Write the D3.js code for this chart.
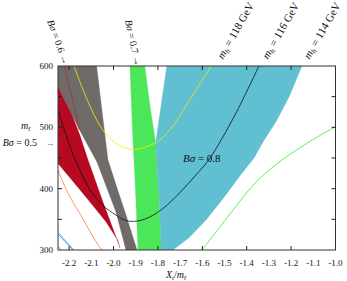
<!DOCTYPE html>
<html><head><meta charset="utf-8">
<script src="https://cdn.jsdelivr.net/npm/d3@7"></script>
<style>
body{margin:0;background:#fff}
svg{display:block}
text{font-family:"Liberation Serif","DejaVu Serif",serif;fill:#111}
</style></head>
<body><svg id="c" width="347" height="281"></svg>
<script>
// ---------- data (X_t/m_t, m_stop) ----------
const xDomain = [-2.25, -1.0];
const yDomain = [300, 600];
const xTickLabels = [-2.2,-2.1,-2.0,-1.9,-1.8,-1.7,-1.6,-1.5,-1.4,-1.3,-1.2,-1.1,-1.0];
const xTickMarks = [-2.2,-2.0,-1.8,-1.6,-1.4,-1.2];
const yTickLabels = [300,400,500,600];
const yTickMarks = [350,400,450,500,550];

const grayBand = [[-2.25,600],[-2.076,600],[-2.052,528],[-2.025,447],[-1.981,398],[-1.948,362],[-1.894,300],
  [-1.944,300],[-1.989,362],[-2.074,443],[-2.155,497],[-2.25,566]];
const redBand = [[-2.25,566],[-2.187,520],[-2.151,487],[-2.115,447],[-2.047,378],[-1.975,308],[-1.971,303],
  [-1.981,316],[-2.034,346],[-2.094,373],[-2.169,406],[-2.25,441]];
const greenBand = [[-1.926,600],[-1.915,498],[-1.900,389],[-1.890,300],[-1.785,300],[-1.795,389],[-1.810,475],[-1.836,536],[-1.859,600]];
const blueBand = [[-1.760,600],[-1.810,475],[-1.795,389],[-1.785,300],[-1.732,300],[-1.660,320],[-1.583,349],[-1.502,386],
  [-1.430,421],[-1.367,450],[-1.322,479],[-1.268,509],[-1.209,550],[-1.151,600]];

const darkRedLine = [[-2.221,600],[-2.196,561],[-2.173,528],[-2.155,497]];
const yellowCurve = [[-2.178,600],[-2.139,563],[-2.094,525],[-2.049,496],[-2.004,478],[-1.959,468],[-1.906,464],
  [-1.832,471],[-1.786,481],[-1.727,505],[-1.646,551],[-1.559,600]];
const blackCurve = [[-2.25,528],[-2.205,478],[-2.169,444],[-2.109,400],[-2.049,373],[-1.989,357],[-1.944,348],[-1.899,347],
  [-1.848,352],[-1.787,365],[-1.727,384],[-1.610,430],[-1.565,450],[-1.453,520],[-1.345,600]];
const orangeCurve = [[-2.25,430],[-2.204,392],[-2.143,354],[-2.083,316],[-2.053,300]];
const greenLine = [[-1.601,300],[-1.462,365],[-1.390,398],[-1.340,417],[-1.241,447],[-1.106,479],[-1.0,501]];
const cyanLine = [[-2.25,329],[-2.178,300]];
const blueLine = [[-2.25,326],[-2.182,300]];
const magentaLine = [[-2.25,306],[-2.236,300]];

// annotations: [text parts, anchor x, anchor y (data units), rotation]
const annotations = [
  {parts:[["B",1],["σ",1],[" = 0.6 →",0]], at:[-2.299,673], rot:70, size:10},
  {parts:[["B",1],["σ",1],[" = 0.7 →",0]], at:[-1.948,674], rot:78, size:10},
  {parts:[["m",1],["h",2],[" = 118 GeV",0]], at:[-1.507,610], rot:-60, size:11},
  {parts:[["m",1],["h",2],[" = 116 GeV",0]], at:[-1.304,610], rot:-60, size:11},
  {parts:[["m",1],["h",2],[" = 114 GeV",0]], at:[-1.117,610], rot:-60, size:11},
  {parts:[["B",1],["σ",1],[" = 0.8",0]], at:[-1.687,444], rot:0, size:11},
  {parts:[["B",1],["σ",1],[" = 0.5",0]], at:[-2.499,469], rot:0, size:10},
  {parts:[["→",0]], at:[-2.305,469], rot:0, size:9, fill:"#777"},
  {parts:[["m",1],["t̃",2]], at:[-2.417,497], rot:0, size:10}
];

// ---------- drawing ----------
const svg = d3.select("#c");
const x = d3.scaleLinear().domain(xDomain).range([58, 335.5]);
const y = d3.scaleLinear().domain(yDomain).range([250, 66]);

svg.append("defs").append("clipPath").attr("id","clip")
  .append("rect").attr("x",58).attr("y",66).attr("width",277.5).attr("height",184);

const plot = svg.append("g").attr("clip-path","url(#clip)");
const poly = d3.line().x(d=>x(d[0])).y(d=>y(d[1])).curve(d3.curveLinearClosed);
const smooth = d3.line().x(d=>x(d[0])).y(d=>y(d[1])).curve(d3.curveCatmullRom.alpha(0.5));
const straight = d3.line().x(d=>x(d[0])).y(d=>y(d[1]));

[[grayBand,"#6f6b69"],[redBand,"#b50a22"],[greenBand,"#4be65a"],[blueBand,"#60bfd1"]].forEach(([d,c])=>{
  plot.append("path").attr("d",poly(d)).attr("fill",c).attr("stroke",c).attr("stroke-width",0.3);
});

[[darkRedLine,"#9e3340",0.8],[yellowCurve,"#eeee10",0.8],[blackCurve,"#111",0.8],[orangeCurve,"#ff7a45",0.8],
 [greenLine,"#30ee30",0.8]].forEach(([d,c,w])=>{
  plot.append("path").attr("d",smooth(d)).attr("fill","none").attr("stroke",c).attr("stroke-width",w);
});
[[cyanLine,"#00dede"],[blueLine,"#3a3aff"],[magentaLine,"#e020e0"]].forEach(([d,c])=>{
  plot.append("path").attr("d",straight(d)).attr("fill","none").attr("stroke",c).attr("stroke-width",0.7);
});

// frame
svg.append("rect").attr("x",58).attr("y",66).attr("width",277.5).attr("height",184)
  .attr("fill","none").attr("stroke","#333").attr("stroke-width",1);

// ticks
const tk = svg.append("g").attr("stroke","#222").attr("stroke-width",1);
xTickMarks.forEach(v=>{
  tk.append("line").attr("x1",x(v)).attr("x2",x(v)).attr("y1",250).attr("y2",246);
  tk.append("line").attr("x1",x(v)).attr("x2",x(v)).attr("y1",66).attr("y2",70);
});
yTickMarks.forEach(v=>{
  tk.append("line").attr("x1",58).attr("x2",62).attr("y1",y(v)).attr("y2",y(v));
  tk.append("line").attr("x1",335.5).attr("x2",331.5).attr("y1",y(v)).attr("y2",y(v));
});

// tick labels
svg.append("g").selectAll("text").data(xTickLabels).join("text")
  .attr("x",d=>x(d)).attr("y",266).attr("text-anchor","middle").attr("font-size",9)
  .text(d=>d.toFixed(1));
svg.append("g").selectAll("text").data(yTickLabels).join("text")
  .attr("x",53).attr("y",d=>y(d)+3).attr("text-anchor","end").attr("font-size",9)
  .text(d=>d);

// x-axis title
const xt = svg.append("text").attr("x",166).attr("y",278).attr("font-size",10);
xt.append("tspan").attr("font-style","italic").text("X");
xt.append("tspan").attr("font-size",7).attr("dy",2).attr("font-style","italic").text("t");
xt.append("tspan").attr("dy",-2).text("/");
xt.append("tspan").attr("font-style","italic").text("m");
xt.append("tspan").attr("font-size",7).attr("dy",2).attr("font-style","italic").text("t̃");

// annotations
annotations.forEach(a=>{
  const t = svg.append("text").attr("font-size",a.size)
    .attr("transform",`translate(${x(a.at[0])},${y(a.at[1])}) rotate(${a.rot})`);
  if (a.fill) t.style("fill",a.fill);
  let sub=false;
  a.parts.forEach(([s,k])=>{
    const sp = t.append("tspan").text(s);
    if (k===1) sp.attr("font-style","italic");
    if (k===2){ sp.attr("font-style","italic").attr("font-size",a.size*0.7).attr("dy",2); sub=true; }
    else if (sub){ sp.attr("dy",-2); sub=false; }
  });
});
</script></body></html>
